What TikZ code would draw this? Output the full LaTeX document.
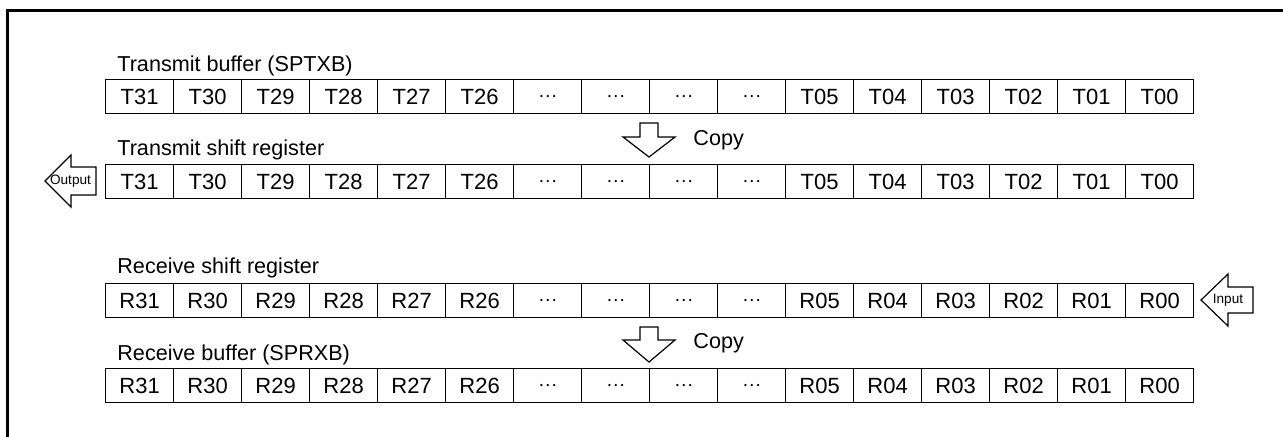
\documentclass[tikz,border=0pt]{standalone}
\usepackage{fontspec}
\setmainfont{Liberation Sans}
\newfontfamily\cjk{Noto Sans CJK JP}
\newcommand{\dd}{{\cjk\fontsize{8.5}{10}\selectfont …}}
\begin{document}
\begin{tikzpicture}[x=0.5pt,y=-0.5pt,
  cell/.style={draw, line width=0.6pt, minimum width=34pt, minimum height=17pt, inner sep=0pt, anchor=north west, font=\fontsize{11}{12}\selectfont},
  lbl/.style={anchor=base west, inner sep=0pt, font=\fontsize{10.8}{12}\selectfont},
  small/.style={inner sep=0pt, font=\fontsize{6.8}{8}\selectfont},
  blockarrow/.style={draw, line width=0.6pt, line join=miter, fill=white}]
\useasboundingbox (0,0) rectangle (1283,436);
% outer frame
\draw[line width=1.5pt, line join=miter] (7.5,440) -- (7.5,10) -- (1290,10);
% labels
\node[lbl] (l1) at (117,71) {Transmit buffer (SPTXB)};
\node[lbl] (l2) at (117,155) {Transmit shift register};
\node[lbl] (l3) at (117,273) {Receive shift register};
\node[lbl] (l4) at (117,360) {Receive buffer (SPRXB)};
% rows
\foreach \t [count=\i from 0] in {T31,T30,T29,T28,T27,T26,\dd,\dd,\dd,\dd,T05,T04,T03,T02,T01,T00}{
  \node[cell] (tb-\i) at ({105+68*\i},79) {\t};
  \node[cell] (ts-\i) at ({105+68*\i},164) {\t};
}
\foreach \t [count=\i from 0] in {R31,R30,R29,R28,R27,R26,\dd,\dd,\dd,\dd,R05,R04,R03,R02,R01,R00}{
  \node[cell] (rs-\i) at ({105+68*\i},283) {\t};
  \node[cell] (rb-\i) at ({105+68*\i},368) {\t};
}
% copy arrows
\draw[blockarrow] (640,123) -- (658,123) -- (658,137) -- (675,137) -- (649,157) -- (623,137) -- (640,137) -- cycle;
\node[lbl] (c1) at (693,145) {Copy};
\draw[blockarrow] (640,327) -- (658,327) -- (658,340) -- (675,340) -- (649,362) -- (623,340) -- (640,340) -- cycle;
\node[lbl] (c2) at (693,348) {Copy};
% output arrow
\draw[blockarrow] (96,167) -- (71,167) -- (71,155) -- (45,181) -- (71,207) -- (71,195) -- (96,195) -- cycle;
\node[small] (out) at (70.5,181) {Output};
% input arrow
\draw[blockarrow] (1253,287) -- (1228,287) -- (1228,274) -- (1201,300) -- (1228,326) -- (1228,313) -- (1253,313) -- cycle;
\node[small] (in) at (1228,300) {Input};
\end{tikzpicture}
\end{document}
